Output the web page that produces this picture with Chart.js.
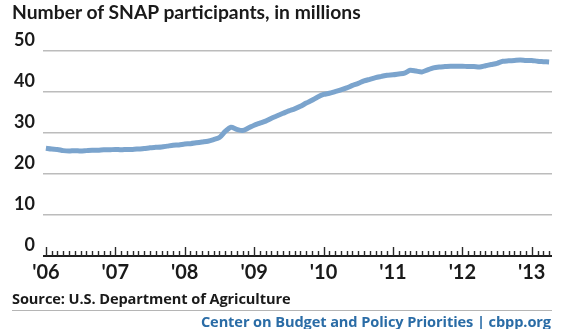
<!DOCTYPE html>
<html><head><meta charset="utf-8">
<script src="https://cdn.jsdelivr.net/npm/chart.js@4/dist/chart.umd.min.js"></script>
<style>
html,body{margin:0;padding:0;background:#fff;}
#wrap{position:relative;width:580px;height:329px;overflow:hidden;}
#c{position:absolute;left:0;top:0;}
.t{position:absolute;white-space:nowrap;font-weight:bold;}
#title{left:12px;top:0px;font-size:19.3px;color:#1a1a1a;font-family:Lato,"Liberation Sans",sans-serif;}
#src{left:12px;top:288px;font-size:14.6px;color:#1a1a1a;font-family:"Open Sans","Liberation Sans",sans-serif;letter-spacing:-0.1px;}
#rule{position:absolute;left:12px;top:310px;width:540px;height:1px;background:#b5b5b5;}
#foot{right:29px;top:311px;font-size:14.6px;color:#2a6ca6;font-family:"Open Sans","Liberation Sans",sans-serif;letter-spacing:-0.1px;}
</style></head>
<body><div id="wrap">
<canvas id="c" width="580" height="329"></canvas>
<div class="t" id="title">Number of SNAP participants, in millions</div>
<div class="t" id="src">Source: U.S. Department of Agriculture</div>
<div id="rule"></div>
<div class="t" id="foot">Center on Budget and Policy Priorities | cbpp.org</div>
</div>
<script>
const yearLabels = ["'06","'07","'08","'09","'10","'11","'12","'13"];
const monthsInLastYear = 4;
const participants = [
  26.3,26.1,26.0,25.7,25.6,25.7,25.6,25.7,25.8,25.8,25.9,25.9,
  26.0,25.9,26.0,26.0,26.1,26.2,26.4,26.5,26.6,26.8,27.0,27.1,
  27.3,27.4,27.6,27.8,28.0,28.4,28.9,30.4,31.4,30.9,30.6,31.2,
  31.9,32.4,32.9,33.6,34.2,34.8,35.4,35.9,36.5,37.3,38.0,38.8,
  39.4,39.7,40.1,40.5,41.0,41.6,42.1,42.7,43.1,43.5,43.8,44.1,
  44.2,44.4,44.6,45.3,45.1,44.9,45.4,45.9,46.1,46.2,46.3,46.3,
  46.3,46.2,46.2,46.1,46.4,46.7,47.0,47.5,47.6,47.7,47.8,47.7,
  47.7,47.5,47.4,47.3
];
const yTicks = [0,10,20,30,40,50];

const categories = [];
yearLabels.forEach((y, yi) => {
  const n = yi === yearLabels.length - 1 ? monthsInLastYear : 12;
  for (let m = 0; m < n; m++) categories.push(m === 0 ? y : '');
});

const rulerTicks = {
  id: 'rulerTicks',
  afterDatasetsDraw(chart) {
    const x = chart.scales.x, y = chart.scales.y;
    const base = y.getPixelForValue(0);
    const ctx = chart.ctx;
    ctx.save();
    ctx.strokeStyle = '#2a2a2a';
    ctx.lineWidth = 1.4;
    categories.forEach((c, i) => {
      const px = Math.round(x.getPixelForValue(i)) + 0.5;
      const h = c ? 9 : 5;
      ctx.beginPath();
      ctx.moveTo(px, base);
      ctx.lineTo(px, base - h);
      ctx.stroke();
    });
    ctx.restore();
  }
};

new Chart(document.getElementById('c'), {
  type: 'line',
  data: {
    labels: categories,
    datasets: [{
      data: participants,
      borderColor: '#7ba4cd',
      borderWidth: 5,
      pointRadius: 0,
      tension: 0.25,
      fill: false
    }]
  },
  options: {
    responsive: false,
    animation: false,
    devicePixelRatio: 1,
    layout: { padding: { top: 51, right: 28, left: 0, bottom: 0 } },
    plugins: { legend: { display: false }, tooltip: { enabled: false } },
    scales: {
      x: {
        type: 'category',
        offset: true,
        border: { display: false },
        grid: { display: false },
        ticks: {
          autoSkip: false, maxRotation: 0, minRotation: 0, padding: -3,
          color: '#1a1a1a',
          font: { family: 'Lato, "Liberation Sans", sans-serif', weight: 'bold', size: 20 }
        },
        afterFit(s) { s.height = 73; }
      },
      y: {
        min: 0, max: 50,
        border: { display: false },
        afterBuildTicks(s) { s.ticks = yTicks.map(v => ({ value: v })); },
        grid: {
          drawTicks: false,
          color: c => c.tick && c.tick.value === 0 ? '#1e1e1e' : '#bcbcbc',
          lineWidth: c => c.tick && c.tick.value === 0 ? 2 : 1.5
        },
        ticks: {
          padding: 8, labelOffset: -11, color: '#1a1a1a',
          font: { family: 'Lato, "Liberation Sans", sans-serif', weight: 'bold', size: 18 }
        },
        afterFit(s) { s.width = 43; }
      }
    }
  },
  plugins: [rulerTicks]
});
</script>
</body></html>
